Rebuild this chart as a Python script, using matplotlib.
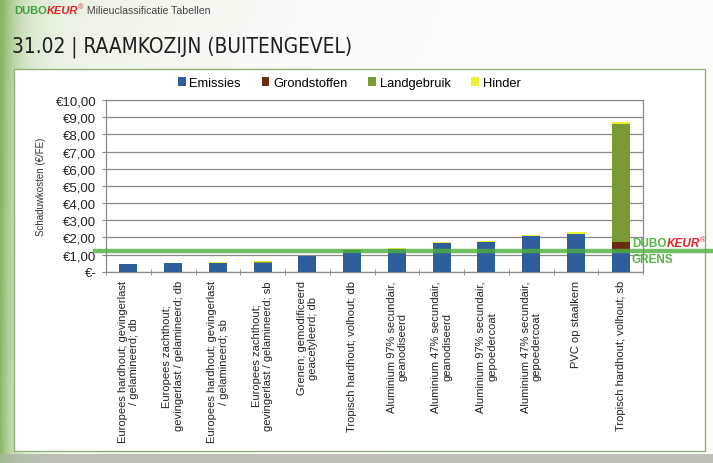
import numpy as np
import matplotlib
matplotlib.use("Agg")
import matplotlib.pyplot as plt
from matplotlib.patches import Rectangle, Patch
from matplotlib.lines import Line2D
import matplotlib.transforms as mtransforms

plt.rcParams['font.family'] = ['Liberation Sans', 'DejaVu Sans']

# ---------------- data ----------------
categories = [
    "Europees hardhout; gevingerlast\n/ gelamineerd; db",
    "Europees zachthout;\ngevingerlast / gelamineerd; db",
    "Europees hardhout; gevingerlast\n/ gelamineerd; sb",
    "Europees zachthout;\ngevingerlast / gelamineerd; sb",
    "Grenen; gemodificeerd\ngeacetyleerd; db",
    "Tropisch hardhout; volhout; db",
    "Aluminium 97% secundair,\ngeanodiseerd",
    "Aluminium 47% secundair,\ngeanodiseerd",
    "Aluminium 97% secundair,\ngepoedercoat",
    "Aluminium 47% secundair,\ngepoedercoat",
    "PVC op staalkern",
    "Tropisch hardhout; volhout; sb",
]
emissies     = [0.42, 0.48, 0.49, 0.52, 0.90, 1.22, 1.32, 1.65, 1.71, 2.06, 2.19, 1.20]
grondstoffen = [0.00, 0.00, 0.00, 0.00, 0.00, 0.02, 0.00, 0.00, 0.00, 0.00, 0.00, 0.55]
landgebruik  = [0.01, 0.01, 0.03, 0.04, 0.02, 0.00, 0.00, 0.00, 0.00, 0.00, 0.00, 6.88]
hinder       = [0.02, 0.01, 0.04, 0.04, 0.02, 0.02, 0.06, 0.08, 0.08, 0.08, 0.12, 0.09]
series_names = ["Emissies", "Grondstoffen", "Landgebruik", "Hinder"]
series_colors = ["#2F5E9C", "#6A2B12", "#7B9A33", "#EEF03A"]
y_ticks = [0, 1, 2, 3, 4, 5, 6, 7, 8, 9, 10]
y_ticklabels = ["€-", "€1,00", "€2,00", "€3,00", "€4,00", "€5,00",
                "€6,00", "€7,00", "€8,00", "€9,00", "€10,00"]
grens = 1.18

title = "31.02 | RAAMKOZIJN (BUITENGEVEL)"
ylabel = "Schaduwkosten (€/FE)"

# ---------------- figure ----------------
W, H = 713, 464
fig = plt.figure(figsize=(W / 100, H / 100), dpi=100)

# background gradient (decoration)
bg = fig.add_axes([0, 0, 1, 1], zorder=-10)
bg.set_axis_off()
px = np.arange(W)[None, :].astype(float)
py = np.arange(H)[:, None].astype(float)
base = np.array([252, 253, 250]) / 255.0
green = np.array([136, 182, 98]) / 255.0
w = np.clip(0.9 * np.exp(-px / 16.0) + 0.22 * np.exp(-px / 160.0) * np.exp(-py / 400.0), 0, 1)
w = w + 0 * py
img = base[None, None, :] * (1 - w[..., None]) + green[None, None, :] * w[..., None]
strip = np.array([188, 192, 182]) / 255.0
bottom = (py >= 455) + 0 * px
img = np.where(bottom[..., None], strip[None, None, :] * (1 - 0.5 * w[..., None]) + green * 0.5 * w[..., None], img)
bg.imshow(img, aspect='auto', extent=[0, 1, 0, 1], origin='upper', interpolation='bilinear')
bg.set_xlim(0, 1)
bg.set_ylim(0, 1)

# white panel
fig.patches.append(Rectangle((14 / W, 1 - 452 / H), 691 / W, 382 / H,
                             transform=fig.transFigure, facecolor='white',
                             edgecolor='#8fb07a', lw=1.0, zorder=-5))

ax = fig.add_axes([106 / W, 1 - 272.7 / H, 537 / W, 171.7 / H])
x = np.arange(len(categories))
bottoms = np.zeros(len(categories))
for name, vals, col in zip(series_names, [emissies, grondstoffen, landgebruik, hinder], series_colors):
    ax.bar(x, vals, width=0.40, bottom=bottoms, color=col, label=name, zorder=3)
    bottoms = bottoms + np.array(vals)

ax.set_xlim(-0.5, len(categories) - 0.5)
ax.set_ylim(0, 10)
ax.set_yticks(y_ticks)
ax.set_yticklabels(y_ticklabels, fontsize=9.5, color='#222222')
ax.yaxis.grid(True, color='#8a8a8a', lw=0.9, zorder=0)
ax.set_axisbelow(True)
for s in ax.spines.values():
    s.set_color('#8a8a8a')
    s.set_linewidth(0.9)
ax.tick_params(axis='y', length=3, color='#8a8a8a', pad=4)

ax.set_xticks(x)
ax.set_xticklabels(categories, rotation=90, fontsize=8.0, color='#222222',
                   va='top', ha='center', multialignment='center')
ax.tick_params(axis='x', which='major', length=0, pad=6)
ax.set_xticks(np.arange(-0.5, len(categories), 1), minor=True)
ax.tick_params(axis='x', which='minor', length=4, color='#8a8a8a', direction='inout')

ax.set_ylabel(ylabel, fontsize=7, color='#333333')
ax.yaxis.set_label_coords(-0.112, 0.5)

# grens line
blend = mtransforms.blended_transform_factory(fig.transFigure, ax.transData)
ax.add_line(Line2D([95 / W, 1.0], [grens, grens], transform=blend, color='#4fb03c',
                   lw=3.2, alpha=0.8, zorder=5, clip_on=False))

# legend
handles = [Patch(facecolor=c, label=n) for n, c in zip(series_names, series_colors)]
fig.legend(handles=handles, loc='center', bbox_to_anchor=(0.49, 1 - 84 / H), ncol=4,
           frameon=False, fontsize=9.3, handlelength=0.6, handleheight=0.6,
           handletextpad=0.3, columnspacing=1.6)

renderer = fig.canvas.get_renderer()

def rich(xpx, ypx, parts):
    xf = xpx / W
    yf = 1 - ypx / H
    for s, kw in parts:
        kw = dict(kw)
        dy = kw.pop('dy', 0)
        t = fig.text(xf, yf + dy / H, s, transform=fig.transFigure,
                     ha='left', va='center', **kw)
        bb = t.get_window_extent(renderer)
        xf += bb.width / fig.bbox.width

# header
rich(14, 11, [("DUBO", dict(fontsize=8, fontweight='bold', color='#3f9e3a')),
              ("KEUR", dict(fontsize=8, fontweight='bold', style='italic', color='#e2262b')),
              ("®", dict(fontsize=5.5, color='#e2262b', dy=3)),
              (" Milieuclassificatie Tabellen", dict(fontsize=7.6, color='#444444'))])

# title: condensed look if available, otherwise fit width
tt = fig.text(12 / W, 1 - 47 / H, title, fontsize=20, fontstretch='condensed',
              family=['DejaVu Sans'], color='#1e1e1e', ha='left', va='center')
tw = tt.get_window_extent(renderer).width
if tw > 345:
    tt.set_fontsize(20 * 340.0 / tw)

# grens label
rich(632, 244, [("DUBO", dict(fontsize=8.5, fontweight='bold', color='#56b446')),
                ("KEUR", dict(fontsize=8.5, fontweight='bold', style='italic', color='#e2262b')),
                ("®", dict(fontsize=5.5, color='#e2262b', dy=3))])
rich(632, 260, [("GRENS", dict(fontsize=8.5, fontweight='bold', color='#56b446'))])

fig.savefig("out.png", dpi=100)
